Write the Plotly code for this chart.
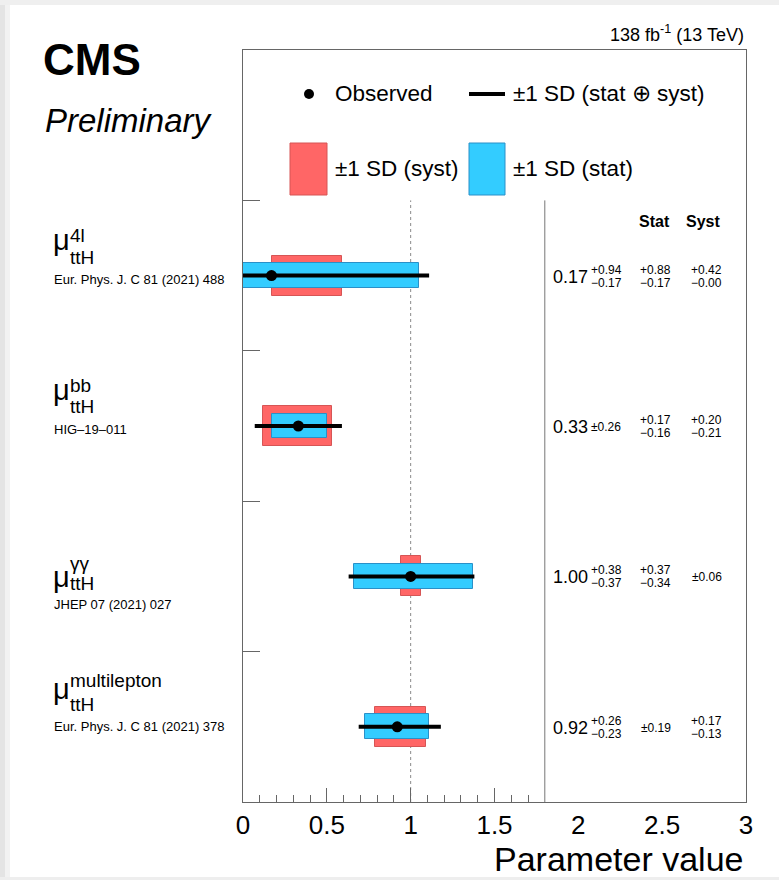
import plotly.graph_objects as go

# ---------------- data ----------------
channels_sup = ["4l", "bb", "γγ", "multilepton"]
channel_sub = "ttH"
references = ["Eur. Phys. J. C 81 (2021) 488", "HIG–19–011",
              "JHEP 07 (2021) 027", "Eur. Phys. J. C 81 (2021) 378"]
central = [0.17, 0.33, 1.00, 0.92]
tot_up = [0.94, 0.26, 0.38, 0.26]
tot_dn = [0.17, 0.26, 0.37, 0.23]
stat_up = [0.88, 0.17, 0.37, 0.19]
stat_dn = [0.17, 0.16, 0.34, 0.19]
syst_up = [0.42, 0.20, 0.06, 0.17]
syst_dn = [0.00, 0.21, 0.06, 0.13]
row_pos = [3.5, 2.5, 1.5, 0.5]
x_ticks = [0, 0.5, 1, 1.5, 2, 2.5, 3]
x_tick_labels = ["0", "0.5", "1", "1.5", "2", "2.5", "3"]
x_major_inside = [0.5, 1, 1.5]
x_minor_inside = [0.1, 0.2, 0.3, 0.4, 0.6, 0.7, 0.8, 0.9, 1.1, 1.2, 1.3, 1.4, 1.6, 1.7]
y_ticks = [1, 2, 3, 4]
sm_line = 1.0
sep_line = 1.8

FONT = "Liberation Sans, Arial, Helvetica, sans-serif"
W, H = 779, 880
PL, PR, PT, PB = 243, 746, 50, 802


def fx(px):
    return (px - PL) / (PR - PL)


def fy(py):
    return (PB - py) / (PB - PT)


RED = "#ff6666"
RED_LINE = "#d65555"
BLUE = "#33ccff"
BLUE_LINE = "#2a90c8"

fig = go.Figure()

# syst boxes
fig.add_trace(go.Bar(
    y=row_pos, x=[u + d for u, d in zip(syst_up, syst_dn)],
    base=[c - d for c, d in zip(central, syst_dn)],
    orientation="h", width=0.266,
    marker=dict(color=RED, line=dict(color=RED_LINE, width=1)),
    showlegend=False, hoverinfo="skip"))
# stat boxes
fig.add_trace(go.Bar(
    y=row_pos, x=[u + d for u, d in zip(stat_up, stat_dn)],
    base=[c - d for c, d in zip(central, stat_dn)],
    orientation="h", width=0.166,
    marker=dict(color=BLUE, line=dict(color=BLUE_LINE, width=1)),
    showlegend=False, hoverinfo="skip"))
# total + observed
fig.add_trace(go.Scatter(
    x=central, y=row_pos, mode="markers",
    marker=dict(color="black", size=11),
    error_x=dict(type="data", symmetric=False, array=tot_up, arrayminus=tot_dn,
                 color="black", thickness=4, width=0),
    showlegend=False, hoverinfo="skip"))
# dummy trace for inside tick axis
fig.add_trace(go.Scatter(x=[0], y=[0], xaxis="x2", mode="markers",
                         marker=dict(opacity=0), showlegend=False, hoverinfo="skip"))

shapes = []
# reference lines
shapes.append(dict(type="line", xref="x", yref="y", x0=sm_line, x1=sm_line, y0=0, y1=4,
                   line=dict(color="#8a8a8a", width=1, dash="dot"), layer="below"))
shapes.append(dict(type="line", xref="x", yref="y", x0=sep_line, x1=sep_line, y0=0, y1=4,
                   line=dict(color="#777777", width=1)))

# legend symbols (paper coords)
shapes.append(dict(type="circle", xref="paper", yref="paper",
                   x0=fx(304), x1=fx(314), y0=fy(99), y1=fy(89),
                   fillcolor="black", line=dict(color="black", width=0)))
shapes.append(dict(type="line", xref="paper", yref="paper",
                   x0=fx(469), x1=fx(505), y0=fy(94), y1=fy(94),
                   line=dict(color="black", width=4)))
shapes.append(dict(type="rect", xref="paper", yref="paper",
                   x0=fx(290), x1=fx(327), y0=fy(195), y1=fy(143),
                   fillcolor=RED, line=dict(color=RED_LINE, width=1)))
shapes.append(dict(type="rect", xref="paper", yref="paper",
                   x0=fx(469), x1=fx(505), y0=fy(195), y1=fy(143),
                   fillcolor=BLUE, line=dict(color=BLUE_LINE, width=1)))

# page shadow edges
shapes.append(dict(type="rect", xref="paper", yref="paper", x0=fx(0), x1=fx(5),
                   y0=fy(H), y1=fy(0), fillcolor="#e4e4e4", line=dict(width=0), layer="below"))
shapes.append(dict(type="rect", xref="paper", yref="paper", x0=fx(5), x1=fx(10),
                   y0=fy(H), y1=fy(0), fillcolor="#f2f2f2", line=dict(width=0), layer="below"))
shapes.append(dict(type="rect", xref="paper", yref="paper", x0=fx(0), x1=fx(W),
                   y0=fy(5), y1=fy(0), fillcolor="#efefef", line=dict(width=0), layer="below"))
shapes.append(dict(type="rect", xref="paper", yref="paper", x0=fx(0), x1=fx(W),
                   y0=fy(H), y1=fy(877), fillcolor="#eeeeee", line=dict(width=0), layer="below"))

ann = []


def txt(text, x, y, size, xanchor="left", xref="paper", yref="paper", yshift=0,
        bold=False, italic=False):
    t = text
    if bold:
        t = "<b>" + t + "</b>"
    if italic:
        t = "<i>" + t + "</i>"
    ann.append(dict(text=t, x=x, y=y, xref=xref, yref=yref, xanchor=xanchor,
                    yanchor="middle", showarrow=False, yshift=yshift,
                    font=dict(family=FONT, size=size, color="black")))


# header texts
txt("CMS", fx(41), fy(59), 44, bold=True)
txt("Preliminary", fx(43), fy(120), 33, italic=True)
txt("138 fb<sup>-1</sup> (13 TeV)", fx(746), fy(33), 18, xanchor="right")
txt("Observed", fx(333), fy(94), 22.5)
txt("±1 SD (stat ⊕ syst)", fx(511), fy(94), 22.5)
txt("±1 SD (syst)", fx(333), fy(169), 22.5)
txt("±1 SD (stat)", fx(511), fy(169), 22.5)
txt("Stat", fx(637), fy(222), 16, bold=True)
txt("Syst", fx(684), fy(222), 16, bold=True)
txt("Parameter value", fx(745), fy(859), 34, xanchor="right")

# label vertical offsets per row (pixels, positive = downwards)
lab_off = [
    dict(mu=-36, sup=-40, sub=-18, ref=4),
    dict(mu=-36, sup=-41, sub=-20, ref=3),
    dict(mu=1, sup=-13, sub=7, ref=28),
    dict(mu=-38, sup=-46, sub=-22, ref=0),
]


def fmt(v):
    return f"{v:.2f}"


def updn(u, d):
    if abs(u - d) < 1e-9:
        return ("±" + fmt(u), None)
    return ("+" + fmt(u), "−" + fmt(d))


for i in range(len(central)):
    r = row_pos[i]
    o = lab_off[i]
    txt("μ", fx(51), r, 29, yref="y", yshift=-o["mu"])
    txt(channels_sup[i], fx(68), r, 19, yref="y", yshift=-o["sup"])
    txt(channel_sub, fx(68), r, 19, yref="y", yshift=-o["sub"])
    txt(references[i], fx(52), r, 13, yref="y", yshift=-o["ref"])

    # numbers on the right
    txt(fmt(central[i]), fx(551), r, 18, yref="y", yshift=-1)
    a, b = updn(tot_up[i], tot_dn[i])
    if b is None:
        txt(a, fx(589), r, 12, yref="y", yshift=-1)
    else:
        txt(a, fx(589), r, 12, yref="y", yshift=6)
        txt(b, fx(589), r, 12, yref="y", yshift=-7)
    a, b = updn(stat_up[i], stat_dn[i])
    if b is None:
        txt(a, fx(673), r, 12, xanchor="right", yref="y", yshift=-1)
    else:
        txt(a, fx(673), r, 12, xanchor="right", yref="y", yshift=6)
        txt(b, fx(673), r, 12, xanchor="right", yref="y", yshift=-7)
    a, b = updn(syst_up[i], syst_dn[i])
    if b is None:
        txt(a, fx(724), r, 12, xanchor="right", yref="y", yshift=-1)
    else:
        txt(a, fx(724), r, 12, xanchor="right", yref="y", yshift=6)
        txt(b, fx(724), r, 12, xanchor="right", yref="y", yshift=-7)

AX = "#666666"
fig.update_layout(
    width=W, height=H,
    margin=dict(l=PL, r=W - PR, t=PT, b=H - PB, pad=0),
    paper_bgcolor="white", plot_bgcolor="white",
    barmode="overlay", bargap=0,
    showlegend=False,
    font=dict(family=FONT, color="black"),
    xaxis=dict(range=[0, 3], tickvals=x_ticks, ticktext=x_tick_labels, ticks="",
               tickfont=dict(size=26, family=FONT, color="black"),
               showline=True, mirror=True, linecolor=AX, linewidth=1,
               showgrid=False, zeroline=False, fixedrange=True),
    xaxis2=dict(range=[0, 3], overlaying="x", anchor="y", side="bottom",
                tickvals=x_major_inside, ticks="inside", ticklen=14, tickcolor=AX, tickwidth=1,
                showticklabels=False, showline=False, showgrid=False, zeroline=False,
                minor=dict(tickvals=x_minor_inside, ticks="inside", ticklen=7,
                           tickcolor=AX, tickwidth=1, showgrid=False)),
    yaxis=dict(range=[0, 5], tickvals=y_ticks, ticks="inside", ticklen=17, tickcolor=AX,
               showticklabels=False, showline=True, mirror=True, linecolor=AX, linewidth=1,
               showgrid=False, zeroline=False, fixedrange=True),
    shapes=shapes,
    annotations=ann,
)

fig.write_html("out.html")
